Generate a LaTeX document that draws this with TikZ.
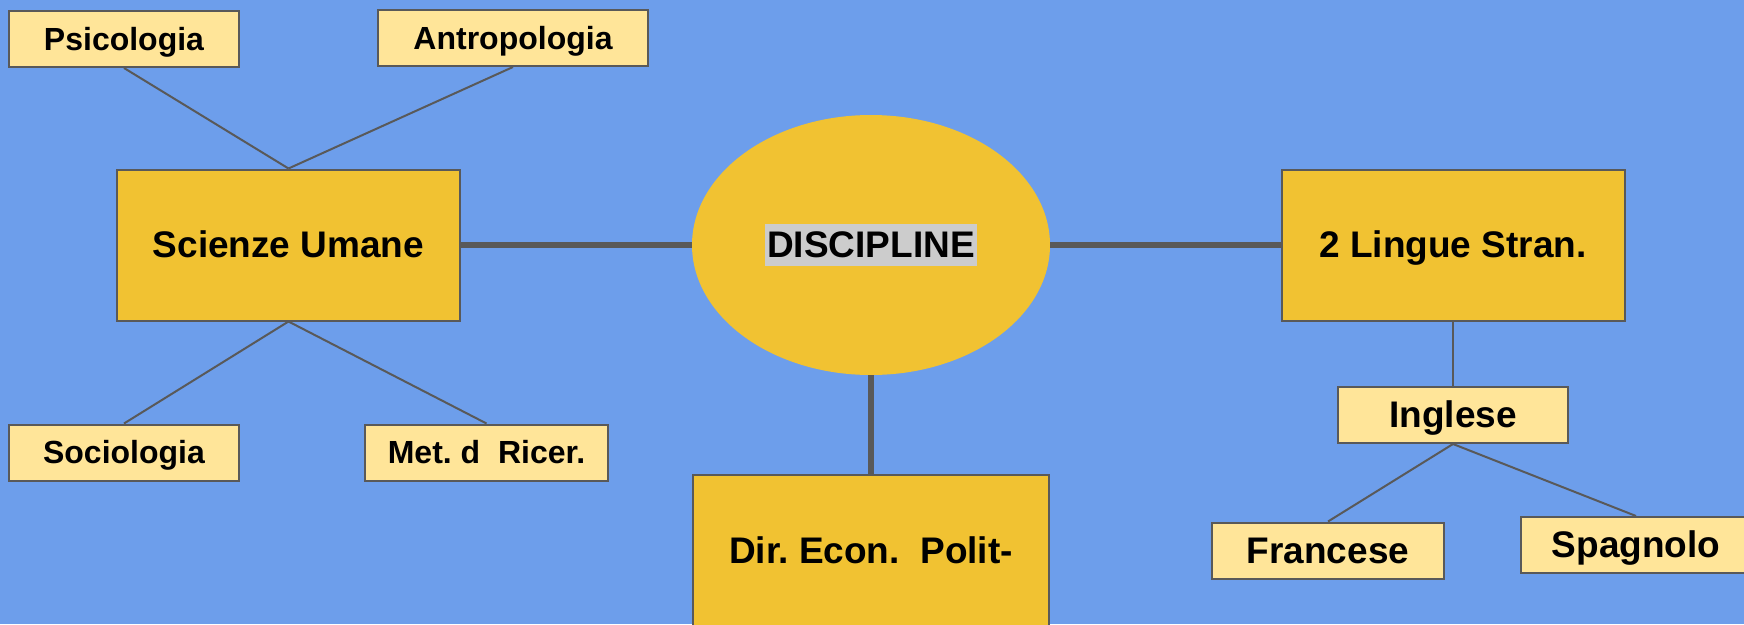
\documentclass[tikz,border=0pt]{standalone}
\usepackage{fontspec}
\setmainfont{Liberation Sans}
\usetikzlibrary{shapes.geometric}
\definecolor{sfondo}{HTML}{6D9EEB}
\definecolor{giallo}{HTML}{F1C232}
\definecolor{giallino}{HTML}{FFE599}
\definecolor{grigio}{HTML}{595959}
\definecolor{evidenzia}{HTML}{CCCCCC}
\begin{document}
\begin{tikzpicture}[x=1pt,y=-1pt]
				\tikzstyle{grande}=[draw=grigio,line width=2pt,fill=giallo,inner sep=0pt,
				minimum width=343pt,minimum height=151pt,
				font=\fontsize{37}{44}\selectfont\bfseries,text height=33.5pt,text depth=7.8pt]
				\tikzstyle{piccolo}=[draw=grigio,line width=2pt,fill=giallino,inner sep=0pt,
				minimum width=230pt,minimum height=56pt,
				font=\fontsize{32}{38}\selectfont\bfseries,text height=29pt,text depth=6.8pt]
				\tikzstyle{lingua}=[piccolo,font=\fontsize{37}{44}\selectfont\bfseries,
				text height=33.5pt,text depth=7.8pt]
				\tikzstyle{spesso}=[draw=grigio,line width=6pt]
				\tikzstyle{sottile}=[draw=grigio,line width=2pt]
				\useasboundingbox (0,0) rectangle (1744,624);
				\clip (0,0) rectangle (1744,624);
				\fill[sfondo] (0,0) rectangle (1744,624);
				\node[ellipse,fill=giallo,minimum width=358pt,minimum height=260pt,inner sep=0pt,
					font=\fontsize{37}{44}\selectfont\bfseries] (disc) at (871,245)
					{\setlength{\fboxsep}{0pt}\colorbox{evidenzia}{\rule[-7.8pt]{0pt}{41.3pt}\hspace{2pt}DISCIPLINE\hspace{2pt}}};
				\node[grande] (scienze) at (288.5,245) {Scienze Umane};
				\node[grande] (lingue) at (1453,245) {2 Lingue Stran.};
				\node[grande,minimum width=356pt] (dir) at (871,550.5) {Dir.\ Econ.\ \ Polit-};
				\node[piccolo] (psico) at (124,39) {Psicologia};
				\node[piccolo,minimum width=270pt] (antro) at (513,38) {Antropologia};
				\node[piccolo] (socio) at (124,452.5) {Sociologia};
				\node[piccolo,minimum width=243pt] (metodo) at (486.5,452.5) {Met.\ d\ \ Ricer.};
				\node[lingua] (inglese) at (1453,415) {Inglese};
				\node[lingua,minimum width=232pt] (francese) at (1328,550.5) {Francese};
				\node[lingua] (spagnolo) at (1636,545) {Spagnolo};
				\draw[spesso] (disc.west) -- (scienze.east);
				\draw[spesso] (disc.east) -- (lingue.west);
				\draw[spesso] (disc.south) -- (dir.north);
				\draw[sottile] (scienze.north) -- (psico.south);
				\draw[sottile] (scienze.north) -- (antro.south);
				\draw[sottile] (scienze.south) -- (socio.north);
				\draw[sottile] (scienze.south) -- (metodo.north);
				\draw[sottile] (lingue.south) -- (inglese.north);
				\draw[sottile] (inglese.south) -- (francese.north);
				\draw[sottile] (inglese.south) -- (spagnolo.north);
\end{tikzpicture}
\end{document}
